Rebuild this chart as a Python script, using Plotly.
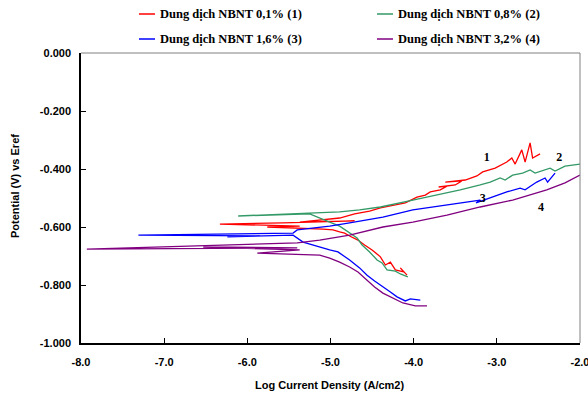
import plotly.graph_objects as go

# ---------------- data ----------------
names = ["Dung dịch NBNT 0,1% (1)", "Dung dịch NBNT 0,8% (2)",
         "Dung dịch NBNT 1,6% (3)", "Dung dịch NBNT 3,2% (4)"]
colors = ["#FF0000", "#339966", "#0000FF", "#800080"]

logi_1 = [-4.08, -4.16, -4.12, -4.22, -4.28, -4.34, -4.40, -4.47, -4.50, -4.59,
          -4.67, -4.77, -4.83, -4.89, -4.97, -5.09, -5.76, -5.37, -6.33, -5.57,
          -4.71, -5.37, -4.89, -4.71, -4.53, -4.40, -4.22, -4.10, -3.96, -3.86,
          -3.80, -3.68, -3.60, -3.70, -3.50, -3.42, -3.62, -3.38, -3.24, -3.17,
          -3.02, -2.88, -2.82, -2.78, -2.70, -2.66, -2.60, -2.57, -2.48]
e_1 = [-0.766, -0.741, -0.755, -0.748, -0.721, -0.731, -0.703, -0.686, -0.679, -0.662,
       -0.645, -0.631, -0.621, -0.617, -0.610, -0.607, -0.600, -0.597, -0.590, -0.586,
       -0.579, -0.583, -0.569, -0.555, -0.545, -0.534, -0.524, -0.517, -0.497, -0.490,
       -0.479, -0.472, -0.459, -0.462, -0.455, -0.441, -0.445, -0.438, -0.424, -0.410,
       -0.397, -0.376, -0.362, -0.383, -0.334, -0.376, -0.310, -0.362, -0.348]

logi_2 = [-4.07, -4.16, -4.22, -4.32, -4.38, -4.44, -4.53, -4.62, -4.68, -4.77,
          -4.89, -5.01, -5.25, -6.11, -5.37, -4.89, -4.65, -4.40, -4.01, -3.60,
          -3.44, -3.20, -3.08, -2.96, -2.90, -2.81, -2.69, -2.60, -2.54, -2.36,
          -2.30, -2.18, -2.00]
e_2 = [-0.772, -0.762, -0.752, -0.748, -0.724, -0.714, -0.686, -0.662, -0.638, -0.621,
       -0.597, -0.583, -0.555, -0.562, -0.552, -0.548, -0.541, -0.531, -0.507, -0.483,
       -0.472, -0.455, -0.445, -0.431, -0.438, -0.421, -0.414, -0.403, -0.414, -0.397,
       -0.407, -0.390, -0.383]

logi_3 = [-3.92, -4.04, -4.10, -4.20, -4.28, -4.37, -4.47, -4.56, -4.65, -4.77,
          -4.83, -4.91, -5.01, -5.15, -5.33, -5.45, -6.24, -5.85, -7.31, -5.45,
          -5.40, -5.01, -4.77, -4.37, -4.01, -3.60, -3.36, -3.20, -3.25, -3.08,
          -2.88, -2.72, -2.66, -2.52, -2.42, -2.39, -2.30]
e_3 = [-0.852, -0.848, -0.855, -0.841, -0.824, -0.807, -0.786, -0.766, -0.741, -0.714,
       -0.703, -0.686, -0.679, -0.666, -0.652, -0.628, -0.634, -0.631, -0.628, -0.621,
       -0.610, -0.597, -0.586, -0.566, -0.541, -0.524, -0.514, -0.507, -0.517, -0.500,
       -0.479, -0.466, -0.472, -0.445, -0.431, -0.445, -0.414]

logi_4 = [-3.84, -3.98, -4.13, -4.25, -4.37, -4.47, -4.56, -4.67, -4.77, -4.89,
          -5.01, -5.13, -5.88, -5.37, -6.53, -5.40, -7.93, -5.40, -5.13, -4.77,
          -4.37, -4.01, -3.60, -3.20, -2.81, -2.40, -2.18, -2.00]
e_4 = [-0.872, -0.872, -0.862, -0.845, -0.828, -0.807, -0.783, -0.755, -0.738, -0.721,
       -0.707, -0.697, -0.690, -0.679, -0.669, -0.672, -0.676, -0.655, -0.645, -0.628,
       -0.600, -0.583, -0.559, -0.531, -0.507, -0.472, -0.448, -0.421]

curve_labels = ["1", "2", "3", "4"]
label_x = [-3.12, -2.25, -3.17, -2.47]
label_y = [-0.362, -0.362, -0.503, -0.534]

x_ticks = [-8, -7, -6, -5, -4, -3, -2]
x_ticktext = ["-8.0", "-7.0", "-6.0", "-5.0", "-4.0", "-3.0", "-2.0"]
y_ticks = [-1.0, -0.8, -0.6, -0.4, -0.2, 0.0]
y_ticktext = ["-1.000", "-0.800", "-0.600", "-0.400", "-0.200", "0.000"]

x_title = "Log Current Density (A/cm2)"
y_title = "Potential (V) vs Eref"

# ---------------- figure ----------------
series_x = [logi_1, logi_2, logi_3, logi_4]
series_y = [e_1, e_2, e_3, e_4]

fig = go.Figure()
for nm, col, xs, ys in zip(names, colors, series_x, series_y):
    fig.add_trace(go.Scatter(x=xs, y=ys, mode="lines", name=nm,
                             line=dict(color=col, width=1.3), showlegend=False))

fig.add_trace(go.Scatter(x=label_x, y=label_y, mode="text", text=curve_labels,
                         textfont=dict(family="Liberation Serif, Times New Roman", size=12,
                                       color="black", weight="bold"),
                         showlegend=False, hoverinfo="skip"))

L, R, T, B = 81, 8, 53, 53
W, H = 588, 396
pw, ph = W - L - R, H - T - B


def px_x(px):
    return (px - L) / pw


def px_y(py):
    return (H - B - py) / ph


shapes = [
    dict(type="line", xref="paper", yref="paper", x0=0, x1=1, y0=1, y1=1,
         line=dict(color="#808080", width=1)),
    dict(type="line", xref="paper", yref="paper", x0=1, x1=1, y0=0, y1=1,
         line=dict(color="#808080", width=1)),
]
annotations = []
# manual legend: two columns, two rows
leg_pos = [(139, 14), (377, 14), (139, 39), (377, 39)]
for (lx, ly), nm, col in zip(leg_pos, names, colors):
    shapes.append(dict(type="line", xref="paper", yref="paper",
                       x0=px_x(lx), x1=px_x(lx + 16), y0=px_y(ly), y1=px_y(ly),
                       line=dict(color=col, width=1.5)))
    annotations.append(dict(xref="paper", yref="paper", x=px_x(lx + 19), y=px_y(ly),
                            xanchor="left", yanchor="middle", showarrow=False, text=nm,
                            font=dict(family="Liberation Serif, Times New Roman", size=12.5,
                                      color="black", weight="bold")))

annotations.append(dict(xref="paper", yref="paper", x=px_x(329), y=px_y(385),
                        xanchor="center", yanchor="middle", showarrow=False, text=x_title,
                        font=dict(family="Liberation Sans, Arial", size=11, color="black",
                                  weight="bold")))
annotations.append(dict(xref="paper", yref="paper", x=px_x(15), y=px_y(186),
                        xanchor="center", yanchor="middle", showarrow=False, text=y_title,
                        textangle=-90,
                        font=dict(family="Liberation Sans, Arial", size=11, color="black",
                                  weight="bold")))

tickfont = dict(family="Liberation Sans, Arial", size=11, color="black", weight="bold")

fig.update_layout(
    template="none",
    width=W, height=H,
    margin=dict(l=L, r=R, t=T, b=B, pad=0, autoexpand=False),
    paper_bgcolor="white", plot_bgcolor="white",
    showlegend=False,
    shapes=shapes, annotations=annotations,
    xaxis=dict(range=[-8, -2], tickvals=x_ticks, ticktext=x_ticktext,
               ticks="inside", ticklen=5, tickwidth=1, tickcolor="black",
               showline=True, linecolor="black", linewidth=1.5,
               showgrid=False, zeroline=False, tickfont=tickfont,
               ticklabelstandoff=8, automargin=False, ticklabeloverflow="allow"),
    yaxis=dict(range=[-1, 0], tickvals=y_ticks, ticktext=y_ticktext,
               ticks="inside", ticklen=5, tickwidth=1, tickcolor="black",
               showline=True, linecolor="black", linewidth=1.5,
               showgrid=False, zeroline=False, tickfont=tickfont,
               ticklabelstandoff=6, automargin=False, ticklabeloverflow="allow"),
)

fig.write_html("out.html", config={"displayModeBar": False},
               post_script="document.body.style.margin='0';document.body.style.padding='0';")
